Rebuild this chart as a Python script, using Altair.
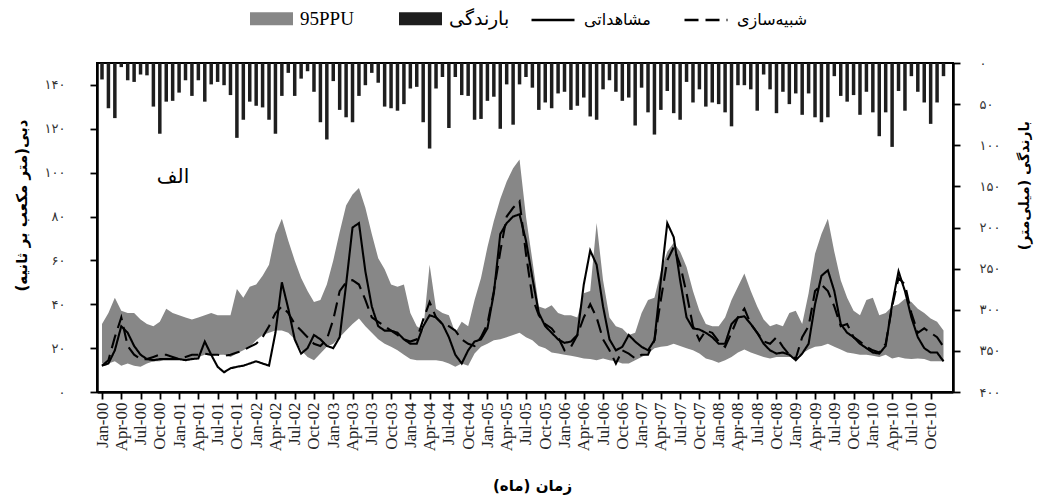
import json
import altair as alt
import pandas as pd

# ---------------- data (monthly, Jan-2000 .. Dec-2010) ----------------
rain = [
    20, 55, 67, 5, 21, 23, 14, 15, 53, 86, 47, 46,
    36, 21, 40, 21, 47, 26, 23, 27, 39, 91, 69, 47,
    52, 54, 69, 86, 40, 12, 40, 19, 10, 35, 72, 93,
    22, 57, 66, 72, 40, 27, 12, 24, 53, 55, 58, 50,
    31, 29, 72, 104, 31, 17, 79, 17, 39, 40, 69, 68,
    46, 41, 80, 26, 75, 26, 17, 30, 57, 48, 55, 37,
    35, 57, 52, 42, 65, 69, 32, 21, 35, 46, 42, 76,
    30, 60, 87, 57, 34, 61, 69, 23, 48, 32, 53, 48,
    50, 60, 77, 27, 27, 32, 58, 14, 32, 61, 35, 50,
    37, 63, 37, 66, 72, 66, 16, 40, 47, 39, 63, 35,
    60, 89, 60, 102, 34, 58, 16, 35, 48, 74, 48, 16,
]
ppu_upper = [
    31, 36, 43, 37, 36, 36, 33, 31, 30, 32, 38, 36,
    35, 34, 33, 34, 35, 36, 35, 35, 35, 47, 43, 48,
    49, 53, 58, 72, 79, 69, 60, 52, 46, 41, 42, 49,
    60, 73, 85, 90, 93, 84, 72, 61, 56, 49, 48, 49,
    36, 30, 28, 58, 38, 36, 35, 27, 32, 30, 42, 52,
    66, 78, 88, 96, 102, 106, 80, 60, 39, 38, 39.5, 36,
    35, 35, 34, 45, 46, 77, 51, 34, 30, 29, 26, 27,
    36, 42, 43, 55, 64, 68, 64, 57, 46, 37, 31, 30,
    30, 34, 42, 48, 54, 46, 39, 33, 30, 31, 30, 36,
    37, 31, 45, 63, 72, 79, 64, 51, 43, 37, 35, 42,
    43, 35, 36, 39, 40, 42.5, 41, 38, 36, 33.5, 32, 28,
]
ppu_lower = [
    13, 13, 14, 12, 13, 12, 11.5, 13, 14, 14, 15, 15,
    15, 14.5, 15, 16, 17, 16.5, 17, 17, 16, 17.5, 19, 20.6,
    23.6, 26, 27, 28, 28, 27, 24, 19, 16, 14.5, 17.5, 20.6,
    22, 25, 28, 31, 33.5, 30, 27, 24, 22, 20.6, 19, 17,
    15, 14.5, 14.5, 14.5, 14.5, 14, 13, 11.5, 13, 12, 17.5, 20.6,
    22, 23.6, 24, 25, 26, 27, 25, 23.6, 21, 20, 18, 17.5,
    17, 16.5, 16, 15.3, 15, 14.5, 15.3, 14.5, 14, 13, 13, 14.5,
    16, 17.5, 20, 20.6, 21, 22, 21, 20, 19, 17.5, 15.3, 14.5,
    13.3, 14.5, 16, 18, 19.4, 18, 17, 16, 15.3, 16, 16, 16,
    16, 17.5, 19.4, 20.6, 21, 22, 20.6, 19.4, 18, 17.5, 17, 17,
    16.5, 16, 17, 15.3, 16, 15.3, 15, 15.3, 15, 14, 14, 14,
]
observed = [
    12, 13, 19, 30, 27, 21, 17, 15, 14.5, 15, 15, 15,
    15, 14.5, 15, 15.3, 23, 17, 11.5, 9, 10.8, 11.5, 12, 13,
    14, 13, 12, 27, 50, 38, 24, 17.5, 20, 26, 24, 21,
    20, 25, 49, 75, 77, 55, 39, 30, 28, 28, 27, 24,
    22, 22, 30, 35, 34, 31, 25, 17, 13, 19, 23, 24,
    29, 45, 72, 77, 80, 81, 69, 52, 36, 30, 27, 24,
    22.4, 23, 26, 49, 64.5, 58, 39, 24, 19, 20.6, 26, 23,
    20.6, 19, 23.6, 51, 77, 70.6, 51, 34, 29, 28.5, 27, 25,
    22, 22, 31, 34, 34.5, 31, 27, 22, 19, 17.5, 18, 17,
    14.5, 17.5, 22, 40, 53, 55.5, 46, 31, 27, 25, 22, 20,
    18, 17.5, 21, 40, 55, 46, 34, 25, 20, 18, 18, 14,
]
simulated = [
    12, 14.5, 25, 34, 21, 17, 15, 15, 16, 17, 17, 16,
    15, 16, 17, 17, 17.5, 17, 17, 16.5, 17, 18, 19, 20.6,
    22, 25, 30, 36, 39, 36, 31, 28, 25, 22, 21, 24,
    33, 46, 50, 51, 49, 42, 34, 32, 30, 28, 26, 24,
    23, 24, 33, 41, 34, 31, 30, 28, 24, 22, 21, 25,
    31, 46, 64, 80, 84, 87, 63, 43, 35, 31, 29, 25,
    19, 20.6, 26, 34, 40, 34, 24, 19, 13, 19, 17.5, 15.3,
    17, 17, 23.6, 42, 60, 66, 58, 45, 30, 23.6, 28, 27,
    23, 20.6, 27, 34, 38, 31, 27, 23, 22, 25, 20.6, 17,
    15.3, 25, 30, 46, 49, 46, 39, 30, 31, 25, 23, 20.6,
    19, 18, 22, 39, 52, 49, 36, 27, 29, 27, 25, 20.6,
]

month_names = ["Jan", "Apr", "Jul", "Oct"]
x_tick_labels = [f"{m}-{y:02d}" for y in range(0, 11) for m in month_names]
x_tick_values = [3 * k for k in range(len(x_tick_labels))]

flow_tick_values = [0, 20, 40, 60, 80, 100, 120, 140]
flow_tick_labels = ["۰", "۲۰", "۴۰", "۶۰", "۸۰", "۱۰۰", "۱۲۰", "۱۴۰"]
rain_tick_values = [0, 50, 100, 150, 200, 250, 300, 350, 400]
rain_tick_labels = ["۰", "۵۰", "۱۰۰", "۱۵۰", "۲۰۰", "۲۵۰", "۳۰۰", "۳۵۰", "۴۰۰"]

series_fill = ["95PPU", "بارندگی"]
series_line = ["مشاهداتی", "شبیه‌سازی"]

df = pd.DataFrame({
    "i": list(range(len(rain))),
    "rain": rain,
    "upper": ppu_upper,
    "lower": ppu_lower,
    "obs": observed,
    "sim": simulated,
})

# ---------------- encodings ----------------
FA_FONT = "DejaVu Sans"

x_enc = alt.X(
    "i:Q",
    scale=alt.Scale(domain=[0, 131.7], nice=False, zero=False),
    axis=alt.Axis(
        values=x_tick_values,
        labelExpr=json.dumps(x_tick_labels, ensure_ascii=False) + "[round(datum.value/3)]",
        labelAngle=270, labelFont="Liberation Serif", labelFontSize=17,
        labelColor="#222", labelPadding=3, labelOverlap=False,
        tickSize=7, tickWidth=1.8, tickColor="black",
        domainColor="black", domainWidth=2.5, grid=False,
        title="زمان (ماه)", titleFont=FA_FONT, titleFontSize=15,
        titleFontWeight="bold", titleColor="black",
        titleX=435, titleY=93, titleAlign="center", titleBaseline="middle",
    ),
)

flow_axis = alt.Axis(
    values=flow_tick_values,
    labelExpr=json.dumps(flow_tick_labels, ensure_ascii=False) + "[round(datum.value/20)]",
    labelFont=FA_FONT, labelFontSize=13, labelColor="#333", labelPadding=25,
    tickSize=7, tickWidth=1.8, tickColor="black",
    domainColor="black", domainWidth=2.5, grid=False,
    title="دبی(متر مکعب بر ثانیه)", titleFont=FA_FONT, titleFontSize=15,
    titleFontWeight="bold", titleColor="black", titleAngle=270,
    titleX=-76, titleY=142, titleAlign="center", titleBaseline="middle",
)
flow_scale = alt.Scale(domain=[0, 150], nice=False, zero=True)

color_scale = alt.Scale(domain=series_fill, range=["#878787", "#1e1e1e"])
color_legend = alt.Legend(
    orient="none", legendX=153, legendY=-66, direction="horizontal", title=None,
    symbolType="M-1,-0.3L1,-0.3L1,0.3L-1,0.3Z", symbolSize=1849,
    symbolStrokeWidth=0, symbolOpacity=1,
    labelFont="Liberation Serif", labelFontSize=19, labelColor="black",
    labelOffset=7, columnPadding=45,
)

area = alt.Chart(df).transform_calculate(series="'95PPU'").mark_area(
    opacity=1, interpolate="linear"
).encode(
    x=x_enc,
    y=alt.Y("upper:Q", scale=flow_scale, axis=flow_axis),
    y2="lower:Q",
    color=alt.Color("series:N", scale=color_scale, legend=color_legend),
)

lines = alt.Chart(df).transform_fold(
    ["obs", "sim"], as_=["key", "val"]
).transform_calculate(
    series="datum.key == 'obs' ? 'مشاهداتی' : 'شبیه‌سازی'"
).mark_line(color="black", strokeWidth=2.1).encode(
    x=x_enc,
    y=alt.Y("val:Q", scale=flow_scale, axis=flow_axis),
    strokeDash=alt.StrokeDash(
        "series:N",
        scale=alt.Scale(domain=series_line, range=[[1, 0], [14, 7]]),
        legend=alt.Legend(
            orient="none", legendX=433, legendY=-66, direction="horizontal",
            title=None, symbolType="stroke", symbolSize=1849,
            symbolStrokeWidth=2.5, symbolStrokeColor="black",
            labelFont=FA_FONT, labelFontSize=16, labelColor="black",
            labelOffset=8, columnPadding=28,
        ),
    ),
)

tag = alt.Chart(pd.DataFrame({"t": ["الف"]})).mark_text(
    font=FA_FONT, fontSize=20, align="center", baseline="middle", color="black"
).encode(text="t:N", x=alt.value(76), y=alt.value(114))

bars = alt.Chart(df).transform_calculate(series="'بارندگی'").mark_bar(size=3.5).encode(
    x=x_enc,
    y=alt.Y(
        "rain:Q",
        scale=alt.Scale(domain=[0, 400], reverse=True, nice=False),
        axis=alt.Axis(
            orient="right", values=rain_tick_values,
            labelExpr=json.dumps(rain_tick_labels, ensure_ascii=False) + "[round(datum.value/50)]",
            labelFont=FA_FONT, labelFontSize=13, labelColor="#333", labelPadding=19,
            tickSize=7, tickWidth=1.8, tickColor="black",
            domainColor="black", domainWidth=2.5, grid=False,
            title="بارندگی (میلی‌متر)", titleFont=FA_FONT, titleFontSize=14,
            titleFontWeight="bold", titleColor="black", titleAngle=270,
            titleX=71, titleY=122, titleAlign="center", titleBaseline="middle",
        ),
    ),
    color=alt.Color("series:N", scale=color_scale, legend=color_legend),
)

chart = alt.layer(
    alt.layer(area, lines, tag), bars
).resolve_scale(y="independent").properties(
    width=856, height=329,
    padding={"left": 89, "top": 55, "right": 82, "bottom": 106},
    autosize=alt.AutoSizeParams(type="none"),
).configure_view(stroke="black", strokeWidth=2)

chart.save("out.html", embed_options={"renderer": "svg", "actions": False})
